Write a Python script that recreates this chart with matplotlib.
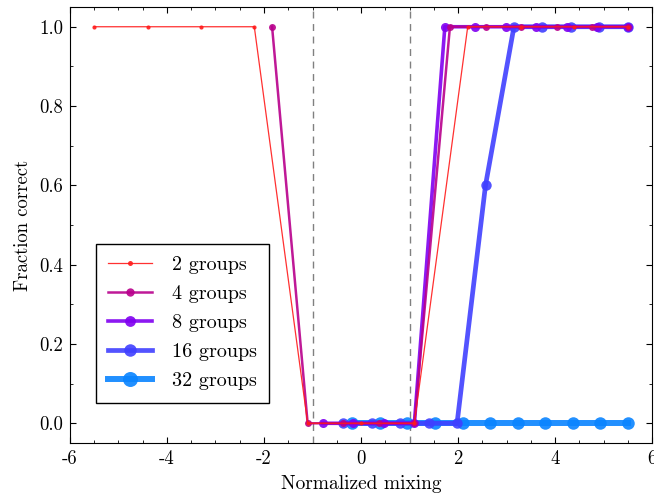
import numpy as np
import matplotlib
matplotlib.use("Agg")
import matplotlib.pyplot as plt

# bundled computer modern font, hyphen as minus sign like the original
plt.rcParams["font.family"] = "serif"
plt.rcParams["font.serif"] = ["cmr10", "DejaVu Serif"]
plt.rcParams["mathtext.fontset"] = "cm"
plt.rcParams["axes.unicode_minus"] = False
plt.rcParams["axes.formatter.use_mathtext"] = False

# number of groups and the fraction correct at each normalized mixing value
groups = [2, 4, 8, 16, 32]
x_max = 5.5
frac_2 = [1, 1, 1, 1, 0, 0, 0, 1, 1, 1, 1]
frac_4 = [1, 0, 0, 0, 0, 1, 1, 1, 1, 1, 1]
frac_8 = [0, 0, 0, 0, 1, 1, 1, 1, 1, 1, 1]
frac_16 = [0, 0, 0, 0, 0, 0.6, 1, 1, 1, 1, 1]
frac_32 = [0, 0, 0, 0, 0, 0, 0, 0, 0, 0, 0]
fracs = [frac_2, frac_4, frac_8, frac_16, frac_32]

colors = ["#ff1a1a", "#b8008c", "#8000f0", "#4040ff", "#0a84ff"]
widths = [0.9, 1.8, 2.6, 3.4, 4.3]
msizes = [3, 5, 6.5, 7.5, 9]

fig = plt.figure(figsize=(6.54, 4.94), dpi=100)
ax = fig.add_axes([0.107, 0.103, 0.89, 0.883])

# x runs from the lowest possible mixing (-x_max/(q-1)) up to x_max
for i, (q, f) in enumerate(zip(groups, fracs)):
    x = np.linspace(-x_max / (q - 1), x_max, len(f))
    ax.plot(x, f, "-o", color=colors[i], lw=widths[i], ms=msizes[i],
            mew=0, alpha=0.9, label="%d groups" % q, zorder=10 - i)

ax.axvline(-1, color="gray", ls="--", lw=1, dashes=(5, 4))
ax.axvline(1, color="gray", ls="--", lw=1, dashes=(5, 4))

ax.set_xlim(-6, 6)
ax.set_ylim(-0.05, 1.05)
ax.set_xticks(np.arange(-6, 7, 2))
ax.set_xticks(np.arange(-6, 6.1, 0.5), minor=True)
ax.set_yticks(np.arange(0, 1.01, 0.2))
ax.set_yticks(np.arange(0, 1.01, 0.1), minor=True)
ax.tick_params(which="both", direction="in", top=True, right=True, labelsize=13.5)
ax.tick_params(which="major", length=4, pad=5)
ax.tick_params(which="minor", length=2)
ax.set_xlabel("Normalized mixing", fontsize=14, labelpad=5)
ax.set_ylabel("Fraction correct", fontsize=13.5, labelpad=5)

leg = ax.legend(loc="lower left", bbox_to_anchor=(0.027, 0.07), fontsize=14.5,
                fancybox=False, edgecolor="black", framealpha=1,
                handlelength=2.2, borderpad=0.6, labelspacing=0.55,
                handletextpad=1.0, markerscale=1.2)
leg.get_frame().set_linewidth(1.0)

plt.savefig("out.png", dpi=100)
